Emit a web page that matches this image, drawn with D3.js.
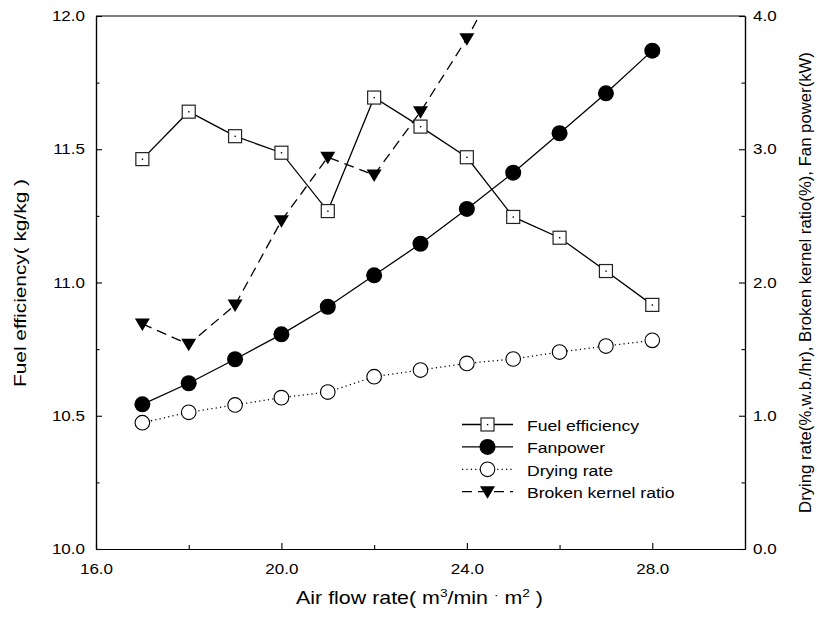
<!DOCTYPE html>
<html>
<head>
<meta charset="utf-8">
<script src="https://cdn.jsdelivr.net/npm/d3@7"></script>
<style>
  html, body { margin: 0; padding: 0; background: #fff; }
  svg text { font-family: "Liberation Sans", Arial, sans-serif; fill: #000; }
</style>
</head>
<body>
<svg id="chart" width="817" height="621"></svg>
<script>
// ---- data ----
const airFlow = [17, 18, 19, 20, 21, 22, 23, 24, 25, 26, 27, 28];
const fuelEfficiency = [11.463, 11.641, 11.549, 11.487, 11.268, 11.694, 11.585, 11.470, 11.246, 11.168, 11.043, 10.916];
const fanPower = [1.086, 1.244, 1.424, 1.611, 1.818, 2.054, 2.291, 2.552, 2.824, 3.12, 3.42, 3.74];
const dryingRate = [0.948, 1.026, 1.081, 1.136, 1.178, 1.293, 1.343, 1.393, 1.426, 1.478, 1.523, 1.566];
const brokenAirFlow = [17, 18, 19, 20, 21, 22, 23, 24, 25];
const brokenKernel = [1.689, 1.536, 1.831, 2.464, 2.94, 2.807, 3.282, 3.83, 4.47];
const xTickValues = [16, 20, 24, 28];
const xMinorTicks = [18, 22, 26];
const yLeftTicks = [10.0, 10.5, 11.0, 11.5, 12.0];
const yLeftMinor = [10.25, 10.75, 11.25, 11.75];
const yRightTicks = [0.0, 1.0, 2.0, 3.0, 4.0];
const yRightMinor = [0.5, 1.5, 2.5, 3.5];
const legendLabels = ["Fuel efficiency", "Fanpower", "Drying rate", "Broken kernel ratio"];

// ---- layout ----
const svg = d3.select("#chart");
const L = 96, R = 745, T = 16, B = 549;
const x = d3.scaleLinear().domain([16, 30]).range([L, R]);
const yL = d3.scaleLinear().domain([10, 12]).range([B, T]);
const yR = d3.scaleLinear().domain([0, 4]).range([B, T]);
const fmt = d3.format(".1f");
const tickFontPx = 14.8, tickStretch = 1.15;

svg.append("defs").append("clipPath").attr("id", "plotclip")
  .append("rect").attr("x", L).attr("y", T).attr("width", R - L).attr("height", B - T);

function styleAxis(g) {
  g.attr("font-size", null).attr("font-family", null);
  g.selectAll(".domain").attr("stroke", "#000").attr("stroke-width", 1.2);
  g.selectAll(".tick line").attr("stroke", "#000").attr("stroke-width", 1.1);
  g.selectAll("text").style("font-size", tickFontPx + "px").attr("fill", "#000")
    .each(function () {
      const t = d3.select(this);
      const xx = +t.attr("x") || 0;
      t.attr("x", xx / tickStretch).attr("transform", `scale(${tickStretch},1)`);
    });
}
// bottom
const gx = svg.append("g").attr("transform", `translate(0,${B})`)
  .call(d3.axisBottom(x).tickValues(xTickValues).tickFormat(fmt).tickSizeInner(-6).tickSizeOuter(0).tickPadding(14));
styleAxis(gx);
const gxm = svg.append("g").attr("transform", `translate(0,${B})`)
  .call(d3.axisBottom(x).tickValues(xMinorTicks).tickFormat("").tickSizeInner(-4).tickSizeOuter(0));
styleAxis(gxm);
// left
const gy = svg.append("g").attr("transform", `translate(${L},0)`)
  .call(d3.axisLeft(yL).tickValues(yLeftTicks).tickFormat(fmt).tickSizeInner(-6).tickSizeOuter(0).tickPadding(11));
styleAxis(gy);
const gym = svg.append("g").attr("transform", `translate(${L},0)`)
  .call(d3.axisLeft(yL).tickValues(yLeftMinor).tickFormat("").tickSizeInner(-3.5).tickSizeOuter(0));
styleAxis(gym);
// right
const gr = svg.append("g").attr("transform", `translate(${R},0)`)
  .call(d3.axisRight(yR).tickValues(yRightTicks).tickFormat(fmt).tickSizeInner(-6).tickSizeOuter(0).tickPadding(8));
styleAxis(gr);
const grm = svg.append("g").attr("transform", `translate(${R},0)`)
  .call(d3.axisRight(yR).tickValues(yRightMinor).tickFormat("").tickSizeInner(-3.5).tickSizeOuter(0));
styleAxis(grm);
// top frame
svg.append("line").attr("x1", L).attr("x2", R).attr("y1", T).attr("y2", T)
  .attr("stroke", "#000").attr("stroke-width", 1.2);

// fit a text element to a target length by horizontal scaling (in its own frame)
function fitLength(textSel, target) {
  const len = textSel.node().getComputedTextLength();
  const sx = target / len;
  const base = textSel.attr("data-base") || "";
  textSel.attr("transform", `${base} scale(${sx},1)`);
}

// axis titles
const ly = svg.append("text").attr("data-base", `translate(25.5,${(T + B) / 2 + 0.5}) rotate(-90)`)
  .attr("text-anchor", "middle").style("font-size", "17px").text("Fuel efficiency( kg/kg )");
fitLength(ly, 208);

const ry = svg.append("text").attr("data-base", `translate(811,${(T + B) / 2}) rotate(-90)`)
  .attr("text-anchor", "middle").style("font-size", "16px")
  .text("Drying rate(%,w.b./hr), Broken kernel ratio(%), Fan power(kW)");
fitLength(ry, 461);

const xt = svg.append("text").attr("data-base", `translate(${(296 + 543) / 2},604)`)
  .attr("text-anchor", "middle").style("font-size", "18px");
xt.append("tspan").text("Air flow rate( m");
xt.append("tspan").attr("dy", -7.5).style("font-size", "11.5px").text("3");
xt.append("tspan").attr("dy", 7.5).text("/min ");
xt.append("tspan").attr("dy", -5).style("font-size", "11.5px").text("·");
xt.append("tspan").attr("dy", 5).text(" m");
xt.append("tspan").attr("dy", -7.5).style("font-size", "11.5px").text("2");
xt.append("tspan").attr("dy", 7.5).text(" )");
fitLength(xt, 247);

// ---- series ----
const plot = svg.append("g").attr("clip-path", "url(#plotclip)");
const markers = svg.append("g");

function lineFor(xs, ys, scale) {
  return d3.line().x((d, i) => x(xs[i])).y(d => scale(d))(ys);
}
const series = [
  { xs: airFlow, ys: fuelEfficiency, scale: yL, dash: null, marker: "square" },
  { xs: airFlow, ys: fanPower, scale: yR, dash: null, marker: "filledCircle" },
  { xs: airFlow, ys: dryingRate, scale: yR, dash: "1.2,3.2", marker: "openCircle" },
  { xs: brokenAirFlow, ys: brokenKernel, scale: yR, dash: "10,6", marker: "triangle" }
];

function drawMarker(g, type, cx, cy) {
  if (type === "square") {
    g.append("rect").attr("x", cx - 6.5).attr("y", cy - 6.5).attr("width", 13).attr("height", 13)
      .attr("fill", "#fff").attr("stroke", "#222").attr("stroke-width", 1.2);
    g.append("rect").attr("x", cx - 0.6).attr("y", cy - 0.6).attr("width", 1.4).attr("height", 1.4).attr("fill", "#000");
  } else if (type === "filledCircle") {
    g.append("circle").attr("cx", cx).attr("cy", cy).attr("r", 8).attr("fill", "#000");
  } else if (type === "openCircle") {
    g.append("circle").attr("cx", cx).attr("cy", cy).attr("r", 7.3)
      .attr("fill", "#fff").attr("stroke", "#000").attr("stroke-width", 1.1);
  } else if (type === "triangle") {
    g.append("path").attr("d", `M${cx - 7.5},${cy - 5.5} L${cx + 7.5},${cy - 5.5} L${cx},${cy + 7} Z`).attr("fill", "#000");
  }
}

series.forEach(s => {
  plot.append("path").attr("d", lineFor(s.xs, s.ys, s.scale))
    .attr("fill", "none").attr("stroke", "#000").attr("stroke-width", 1.3)
    .attr("stroke-dasharray", s.dash);
});
series.forEach(s => {
  const g = markers.append("g");
  s.ys.forEach((v, i) => {
    const cy = s.scale(v);
    if (cy < T || cy > B) return;
    drawMarker(g, s.marker, x(s.xs[i]), cy);
  });
});

// ---- legend ----
const lg = svg.append("g");
const legY0 = 424.5, legStep = 22.4, legStretch = 1.135;
series.forEach((s, i) => {
  const yy = legY0 + i * legStep;
  lg.append("line").attr("x1", 462).attr("x2", 513).attr("y1", yy).attr("y2", yy)
    .attr("stroke", "#000").attr("stroke-width", 1.3).attr("stroke-dasharray", s.dash);
  drawMarker(lg, s.marker, 487.5, yy);
  lg.append("text").attr("transform", `translate(527,${yy + 6.5}) scale(${legStretch},1)`)
    .style("font-size", "15.5px").text(legendLabels[i]);
});
</script>
</body>
</html>
